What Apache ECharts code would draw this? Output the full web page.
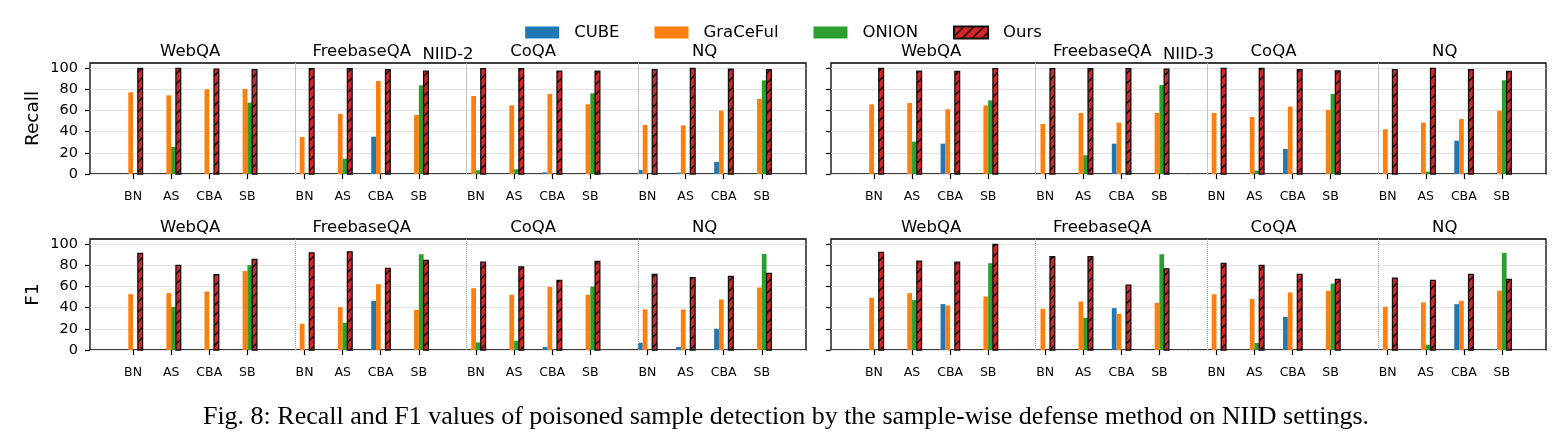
<!DOCTYPE html>
<html><head><meta charset="utf-8">
<script src="https://cdn.jsdelivr.net/npm/echarts@6/dist/echarts.min.js"></script>
<style>html,body{margin:0;padding:0;background:#fff}#c{width:1567px;height:446px}</style>
</head><body><div id="c"></div>
<script>
const groups = ['WebQA', 'FreebaseQA', 'CoQA', 'NQ'];
const attacks = ['BN', 'AS', 'CBA', 'SB'];
const methods = ['CUBE', 'GraCeFul', 'ONION', 'Ours'];
const panelTitles = ['NIID-2', 'NIID-3'];
const rowLabels = ['Recall', 'F1'];
const yTicks = [0, 20, 40, 60, 80, 100];

// order in each array: WebQA(BN,AS,CBA,SB), FreebaseQA(...), CoQA(...), NQ(...)
const recall2Cube  = [0, 0, 0, 0,   0, 0, 35.3, 0,   0, 0, 1.6, 0,   3.8, 1.3, 11.4, 0];
const recall2Grace = [77.3, 74.4, 80.1, 80.4,   35, 56.8, 88, 55.8,   73.8, 65, 75.7, 65.9,   46.4, 46, 59.9, 71];
const recall2Onion = [0, 25.6, 0, 67.5,   0, 14.5, 0, 83.9,   3.5, 4.4, 0, 76.3,   0, 0, 0, 88.6];
const recall2Ours  = [100, 100, 99.2, 98.8,   99.6, 99.6, 98.6, 97.3,   99.6, 99.6, 97.3, 97.3,   98.8, 100, 99.2, 98.6];

const recall3Cube  = [0, 0, 28.7, 0,   0, 0, 28.7, 0,   0, 0, 23.7, 0,   0, 0, 31.5, 0];
const recall3Grace = [65.9, 67.2, 61.2, 65,   47.3, 57.7, 48.6, 57.7,   57.7, 53.9, 63.7, 60.6,   42.3, 48.6, 52, 59.9];
const recall3Onion = [0, 30.6, 0, 69.7,   0, 17.7, 0, 84.2,   0, 3.2, 0, 75.7,   0, 2.2, 0, 88.6];
const recall3Ours  = [100, 97.3, 97, 99.6,   99.6, 99.6, 99.6, 99.3,   100, 100, 98.8, 97.6,   98.8, 100, 98.8, 97];

const f1n2Cube  = [0, 0, 0, 0,   0, 0, 46.5, 0,   0, 0, 2.8, 0,   6.9, 2.8, 20.1, 0];
const f1n2Grace = [52.8, 53.8, 55.3, 74.8,   24.8, 40.6, 62.3, 38,   58.5, 52.2, 59.7, 52.2,   38.4, 38.4, 47.8, 59.1];
const f1n2Onion = [0, 40.9, 0, 80.2,   0, 25.8, 0, 90.6,   7.2, 8.8, 0, 60,   0, 0, 0, 90.9];
const f1n2Ours  = [91.3, 80, 71.2, 85.6,   91.9, 92.9, 77.2, 84.7,   83.1, 78.7, 65.8, 83.8,   71.5, 68.4, 69.6, 72.4];

const f1n3Cube  = [0, 0, 43.4, 0,   0, 0, 39.6, 0,   0, 0, 31.4, 0,   0, 0, 43.4, 0.9];
const f1n3Grace = [49.4, 53.8, 42.1, 50.6,   39, 45.9, 34.3, 44.7,   52.8, 48.4, 54.4, 56,   40.9, 45, 46.5, 56];
const f1n3Onion = [0, 47.2, 0, 82.1,   0, 30.5, 0, 90.6,   0, 6.6, 0, 62.9,   0, 5, 0, 91.8];
const f1n3Ours  = [92.3, 84.1, 83.1, 99.8,   88.2, 88.2, 61.4, 76.8,   81.9, 80, 71.5, 66.8,   68, 65.8, 71.5, 66.8];

const COLORS = ['#1f77b4', '#ff7f0e', '#2ca02c', '#d62728'];
const FONT = 'DejaVu Sans';
const BAR_W = 0.125;
const GROUP_STEP = 4.5;
const xPos = i => Math.floor(i / 4) * GROUP_STEP + (i % 4);
const tickPos = Array.from({length: 16}, (_, i) => xPos(i));
const groupCenters = groups.map((g, gi) => gi * GROUP_STEP + 1.5);
const sepPos = [1, 2, 3].map(g => g * GROUP_STEP - 0.25);

// hatch pattern for "Ours"
const hc = document.createElement('canvas');
hc.width = 10; hc.height = 10;
(function () {
  const c = hc.getContext('2d');
  c.fillStyle = '#d62728'; c.fillRect(0, 0, 10, 10);
  c.strokeStyle = '#000'; c.lineWidth = 1.3;
  c.beginPath();
  c.moveTo(-2, 12); c.lineTo(12, -2);
  c.moveTo(-7, 7); c.lineTo(7, -7);
  c.moveTo(3, 17); c.lineTo(17, 3);
  c.stroke();
})();
const hatch = {image: hc, repeat: 'repeat'};

const panels = [
  {data: [recall2Cube, recall2Grace, recall2Onion, recall2Ours], left: 90, top: 63, width: 716, ylab: rowLabels[0], showY: true, sep: 'solid'},
  {data: [recall3Cube, recall3Grace, recall3Onion, recall3Ours], left: 831, top: 63, width: 715, ylab: '', showY: false, sep: 'solid'},
  {data: [f1n2Cube, f1n2Grace, f1n2Onion, f1n2Ours], left: 90, top: 239, width: 716, ylab: rowLabels[1], showY: true, sep: 'dotted'},
  {data: [f1n3Cube, f1n3Grace, f1n3Onion, f1n3Ours], left: 831, top: 239, width: 715, ylab: '', showY: false, sep: 'dotted'}
];

const grid = [], xAxis = [], yAxis = [], series = [];
panels.forEach((p, k) => {
  grid.push({left: p.left, top: p.top, width: p.width, height: 111, show: true, borderColor: '#000', borderWidth: 1.3, backgroundColor: 'transparent'});
  xAxis.push({
    type: 'value', gridIndex: k, min: -1.13, max: 17.66, position: 'bottom',
    axisLine: {show: false, onZero: false}, splitLine: {show: false},
    axisTick: {show: true, customValues: tickPos, length: 5, lineStyle: {color: '#000', width: 1.2}},
    axisLabel: {customValues: tickPos, margin: 16, fontSize: 12.5, fontFamily: FONT, color: '#000',
      formatter: v => { const i = tickPos.findIndex(t => Math.abs(t - v) < 1e-6); return i < 0 ? '' : attacks[i % 4]; }}
  });
  xAxis.push({
    type: 'value', gridIndex: k, min: -1.13, max: 17.66, position: 'top',
    axisLine: {show: false, onZero: false}, splitLine: {show: false}, axisTick: {show: false},
    axisLabel: {customValues: groupCenters, margin: 3, fontSize: 16.5, fontFamily: FONT, color: '#000',
      formatter: v => { const i = groupCenters.findIndex(t => Math.abs(t - v) < 1e-6); return i < 0 ? '' : groups[i]; }}
  });
  yAxis.push({
    type: 'value', gridIndex: k, min: 0, max: 105, interval: 20, position: 'left',
    name: p.ylab, nameLocation: 'middle', nameGap: 47, nameRotate: 90,
    nameTextStyle: {fontSize: 18.5, fontFamily: FONT, color: '#000'},
    axisLine: {show: false, onZero: false},
    axisTick: {show: true, customValues: yTicks, length: 5, lineStyle: {color: '#000', width: 1.2}},
    axisLabel: {show: p.showY, customValues: yTicks, margin: 12, fontSize: 14.5, fontFamily: FONT, color: '#000'},
    splitLine: {show: true, lineStyle: {color: '#e3e3e3', width: 1}}
  });
  methods.forEach((m, mi) => {
    const isOurs = mi === 3;
    series.push({
      type: 'custom', name: m, xAxisIndex: 2 * k, yAxisIndex: k, z: 3,
      itemStyle: isOurs ? {color: hatch, borderColor: '#111', borderWidth: 1.3} : {color: COLORS[mi]},
      data: p.data[mi].map((v, i) => [xPos(i) + (mi - 1.5) * BAR_W, v]),
      renderItem: (params, api) => {
        const x = api.value(0), y = api.value(1);
        if (!(y > 0)) return;
        const a = api.coord([x - BAR_W / 2, y]);
        const b = api.coord([x + BAR_W / 2, 0]);
        return {
          type: 'rect',
          shape: {x: a[0], y: a[1], width: b[0] - a[0], height: b[1] - a[1]},
          style: isOurs ? {fill: hatch, stroke: '#111', lineWidth: 1.3} : {fill: COLORS[mi]}
        };
      }
    });
  });
  series.push({
    type: 'line', name: 'sep' + k, xAxisIndex: 2 * k, yAxisIndex: k, data: [], silent: true,
    markLine: {silent: true, symbol: 'none', label: {show: false}, animation: false,
      lineStyle: {color: p.sep === 'solid' ? '#c4c4c4' : '#999', width: 1, type: p.sep},
      data: sepPos.map(v => ({xAxis: v}))}
  });
});

const chart = echarts.init(document.getElementById('c'), null, {renderer: 'canvas'});
chart.setOption({
  animation: false,
  textStyle: {fontFamily: FONT},
  grid, xAxis, yAxis, series,
  legend: {
    data: methods, top: 19, left: 'center', icon: 'rect',
    itemWidth: 34, itemHeight: 12, itemGap: 35,
    textStyle: {fontSize: 16.5, fontFamily: FONT, color: '#000', padding: [0, 0, 0, 10]}
  },
  graphic: [
    {type: 'text', x: 448, y: 54.7, style: {text: panelTitles[0], align: 'center', verticalAlign: 'middle', font: '16.5px "DejaVu Sans"', fill: '#000'}},
    {type: 'text', x: 1188.5, y: 54.7, style: {text: panelTitles[1], align: 'center', verticalAlign: 'middle', font: '16.5px "DejaVu Sans"', fill: '#000'}},
    {type: 'text', x: 786, y: 417, style: {text: 'Fig. 8: Recall and F1 values of poisoned sample detection by the sample-wise defense method on NIID settings.', align: 'center', verticalAlign: 'middle', font: '26px "Liberation Serif"', fill: '#000'}}
  ]
});
</script></body></html>
